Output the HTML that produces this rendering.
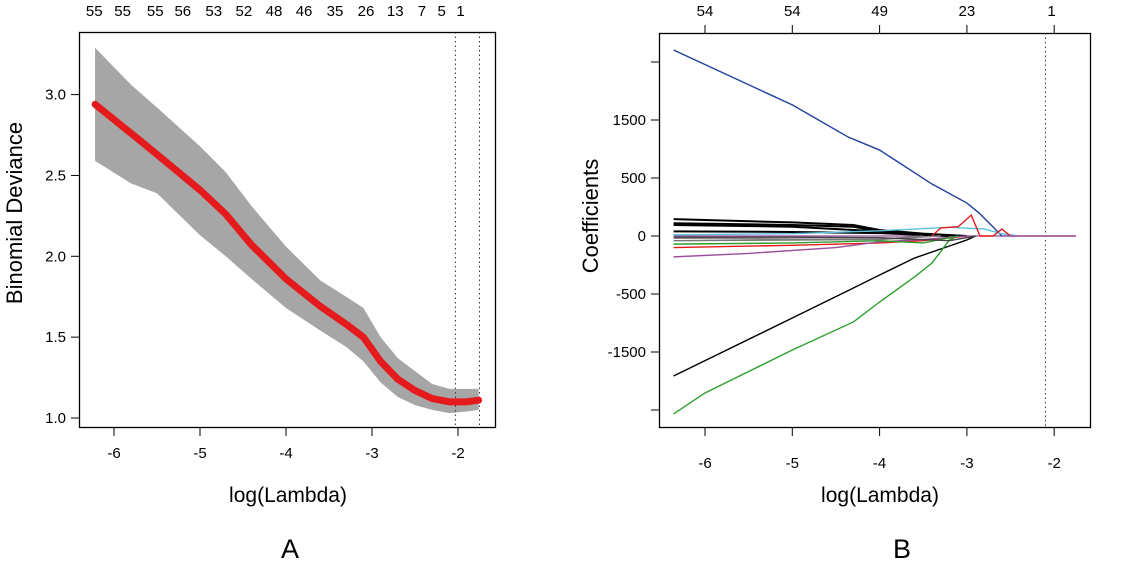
<!DOCTYPE html>
<html><head><meta charset="utf-8"><style>
html,body{margin:0;padding:0;background:#fff;}
svg{display:block;font-family:"Liberation Sans",Arial,sans-serif;}
</style></head><body>
<svg id="fig" width="1122" height="569" viewBox="0 0 1122 569"></svg>
<script>
// ---------- Panel A data ----------
const aLambda = [-6.22,-5.8,-5.5,-5,-4.7,-4.4,-4,-3.6,-3.3,-3.1,-2.9,-2.7,-2.5,-2.3,-2.1,-1.9,-1.76];
const aDev    = [2.94,2.76,2.63,2.41,2.26,2.07,1.86,1.69,1.58,1.50,1.35,1.24,1.17,1.12,1.10,1.10,1.11];
const aUpper  = [3.29,3.06,2.92,2.68,2.52,2.31,2.06,1.85,1.75,1.68,1.50,1.37,1.29,1.21,1.18,1.18,1.18];
const aLower  = [2.59,2.45,2.39,2.13,2.00,1.86,1.68,1.54,1.44,1.35,1.22,1.13,1.08,1.05,1.03,1.04,1.05];
const aXTicks = [-6,-5,-4,-3,-2];
const aYTicks = [1.0,1.5,2.0,2.5,3.0];
const aTopLabels = ["55","55","55","56","53","52","48","46","35","26","13","7","5","1"];
const aTopLambda = [-6.23,-5.9,-5.52,-5.2,-4.84,-4.49,-4.14,-3.79,-3.43,-3.07,-2.73,-2.42,-2.19,-1.97];
const aVLines = [-2.03,-1.75];
// ---------- Panel B data ----------
const bXTicks = [-6,-5,-4,-3,-2];
const bYTicks = [1500,1000,500,0,-500,-1000,-1500];
const bYLabels = ["","1500","500","0","-500","-1500",""];
const bTopLabels = ["54","54","49","23","1"];
const bTopLambda = [-6,-5,-4,-3,-2.03];
const bVLines = [-2.1];
const bSeriesColors = ["#1f3f9f","#000","#2ca02c","#000","#000","#000","#000","#5bc0de","#e31a1c","#e31a1c","#9b4f9b","#2ca02c","#888","#777","#444","#9b4f9b"];
const bSeriesLambda = [
 [-6.36,-5,-4.36,-4,-3.4,-3,-2.86,-2.7,-2.6],
 [-6.36,-5,-4.3,-4,-3.6,-3.2,-3,-2.9],
 [-6.36,-6,-5,-4.3,-4,-3.6,-3.4,-3.2,-3.1],
 [-6.36,-5,-4.3,-4,-3.5,-3],
 [-6.36,-5,-4.3,-4,-3.2],
 [-6.36,-5,-4,-3.3],
 [-6.36,-5,-4,-3.2],
 [-6.36,-5,-4,-3.2,-2.8,-2.6,-2.4],
 [-6.36,-5,-4,-3.5,-3],
 [-3.4,-3.3,-3.1,-2.95,-2.85,-2.7,-2.6,-2.5],
 [-6.36,-5.5,-4.5,-4,-3.5,-3],
 [-6.36,-5,-4,-3.5,-3.1],
 [-6.36,-5,-4,-3.3],
 [-6.36,-5,-4,-3.5],
 [-6.36,-5,-4,-3.2,-2.9],
 [-2.6,-1.75]
];
const bSeriesValues = [
 [1603,1130,853,741,448,284,198,78,0],
 [-1207,-707,-448,-336,-190,-86,-34,0],
 [-1534,-1353,-983,-741,-569,-353,-233,-34,0],
 [146,117,95,52,20,0],
 [110,95,80,40,0],
 [95,80,40,0],
 [40,35,25,0],
 [10,20,45,75,60,20,0],
 [-100,-80,-60,-40,0],
 [0,70,80,180,0,0,60,0],
 [-180,-150,-100,-50,-30,0],
 [-70,-60,-40,-60,0],
 [-20,-25,-30,0],
 [-40,-35,-30,0],
 [-10,-10,-15,-40,0],
 [0,0]
];

const NS="http://www.w3.org/2000/svg";
const svg=document.getElementById('fig');
function mk(tag,attrs,parent){const e=document.createElementNS(NS,tag);for(const k in attrs)e.setAttribute(k,attrs[k]);(parent||svg).appendChild(e);return e;}
function txt(s,x,y,size,anchor,parent,rot){const t=mk('text',{x:x,y:y,'font-size':size,'text-anchor':anchor||'middle',fill:'#000'},parent);if(rot)t.setAttribute('transform','rotate(-90 '+x+' '+y+')');t.textContent=s;return t;}

// ===== Panel A =====
const ax=l=>114+(l+6)*86;
const ay=v=>418-(v-1.0)*161.7;
const gA=mk('g',{});


let band='';
aLambda.forEach((l,i)=>{band+=(i?'L':'M')+ax(l)+','+ay(aUpper[i]);});
for(let i=aLambda.length-1;i>=0;i--)band+='L'+ax(aLambda[i])+','+ay(aLower[i]);
const bandEl=mk('path',{d:band+'Z',fill:'#a6a6a6'},gA);


aVLines.forEach(l=>{const v=mk('line',{x1:ax(l),x2:ax(l),y1:32,y2:428,stroke:'#333','stroke-dasharray':'1.5,3','stroke-width':1},gA);

});
let dpath='';aLambda.forEach((l,i)=>{dpath+=(i?'L':'M')+ax(l)+','+ay(aDev[i]);});
const cv=mk('path',{d:dpath,fill:'none',stroke:'#e41a1c','stroke-width':7,'stroke-linecap':'round','stroke-linejoin':'round'},gA);


const boxA=mk('rect',{x:79.5,y:32.5,width:416,height:395,fill:'none',stroke:'#000','stroke-width':1.3},gA);


aXTicks.forEach(t=>{mk('line',{x1:ax(t),x2:ax(t),y1:428,y2:436,stroke:'#000'},gA);const e=txt(String(t),ax(t),458,15,'middle',gA);

});
aYTicks.forEach(t=>{mk('line',{x1:71,x2:79,y1:ay(t),y2:ay(t),stroke:'#000'},gA);const e=txt(t.toFixed(1),66,ay(t)+5,15,'end',gA);

});
aTopLabels.forEach((s,i)=>{const e=txt(s,ax(aTopLambda[i]),16,15,'middle',gA);

});
let e1=txt('Binomial Deviance',22,213,22,'middle',gA,true);


e1=txt('log(Lambda)',288,502,21,'middle',gA);


e1=txt('A',290,558,27,'middle',gA);



// ===== Panel B =====
const bx=l=>705+(l+6)*87.3;
const by=v=>236-v*0.116;
const gB=mk('g',{});


bVLines.forEach(l=>{const v=mk('line',{x1:bx(l),x2:bx(l),y1:33,y2:428,stroke:'#333','stroke-dasharray':'1.5,3','stroke-width':1},gB);

});
const zl=mk('line',{x1:bx(-6.36),x2:bx(-1.75),y1:by(0),y2:by(0),stroke:'#9b4f9b','stroke-width':1.3},gB);


bSeriesLambda.forEach((ls,si)=>{let d='';ls.forEach((l,i)=>{d+=(i?'L':'M')+bx(l)+','+by(bSeriesValues[si][i]);});
const p=mk('path',{d:d,fill:'none',stroke:bSeriesColors[si],'stroke-width':(si>=3&&si<=6)?2:1.4},gB);

});
const boxB=mk('rect',{x:659.5,y:33.5,width:431,height:394,fill:'none',stroke:'#000','stroke-width':1.3},gB);


bXTicks.forEach(t=>{mk('line',{x1:bx(t),x2:bx(t),y1:428,y2:436,stroke:'#000'},gB);mk('line',{x1:bx(t),x2:bx(t),y1:25,y2:33,stroke:'#000'},gB);const e=txt(String(t),bx(t),468,15,'middle',gB);

});
bYTicks.forEach((t,i)=>{mk('line',{x1:651,x2:659,y1:by(t),y2:by(t),stroke:'#000'},gB);if(bYLabels[i]){const e=txt(bYLabels[i],646,by(t)+5,15,'end',gB);

}});
bTopLabels.forEach((s,i)=>{const e=txt(s,bx(bTopLambda[i]),16,15,'middle',gB);

});
let e2=txt('Coefficients',598,216,22,'middle',gB,true);


e2=txt('log(Lambda)',880,502,21,'middle',gB);


e2=txt('B',902,558,27,'middle',gB);


</script>
</body></html>
